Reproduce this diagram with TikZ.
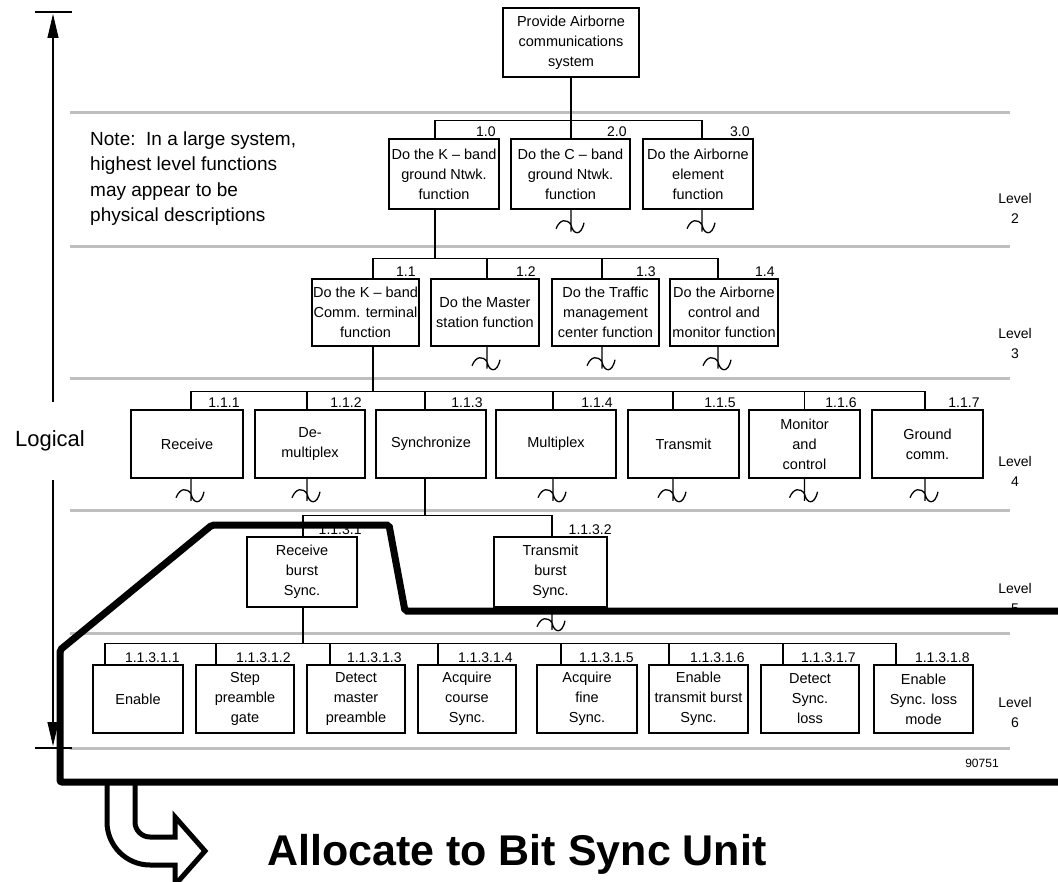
\documentclass[tikz,border=0pt]{standalone}
\usepackage{fontspec}
\setmainfont{Liberation Sans}
\usetikzlibrary{arrows.meta}

\begin{document}
\begin{tikzpicture}[x=1pt,y=-1pt]
	\tikzstyle{block} = [rectangle, draw, line width=1.5pt, inner sep=0pt, align=center, font=\fontsize{14.5}{20}\selectfont]
	\tikzstyle{num} = [anchor=base east, inner sep=0pt, xshift=-4pt, yshift=2pt, font=\fontsize{14}{16}\selectfont]
	\tikzstyle{tree} = [line width=1.2pt]
	\tikzstyle{sep} = [line width=3pt, black!25]
	\tikzstyle{lvl} = [align=center, inner sep=0pt, font=\fontsize{14}{20}\selectfont]
	\tikzset{squig/.pic={\draw[line width=1.3pt] (0,0) -- (0,22)
		(-15,19) .. controls (-11,9) and (-4,9) .. (0,15) .. controls (2,25) and (10,27) .. (13,13);}}
	\useasboundingbox (0,0) rectangle (1058,882);
	% level separators
	\foreach \y in {113,247,379,510,633,748} \draw[sep] (70,\y) -- (1010,\y);
	% logical axis
	\coordinate (ltop) at (53,14);
	\coordinate (lbot) at (53,746);
	\draw[line width=1.2pt] (35,12) -- (72,12) (35,748) -- (72,748);
	\node[minimum height=78pt, inner sep=0pt, font=\fontsize{22}{24}\selectfont](logical)at (50,441){Logical};
	\draw[line width=1.2pt, -{Triangle[length=24pt,width=11pt]}] (logical.north -| ltop) -- (ltop);
	\draw[line width=1.2pt, -{Triangle[length=24pt,width=11pt]}] (logical.south -| lbot) -- (lbot);
	\node[anchor=west, align=left, inner sep=0pt, font=\fontsize{19}{25.5}\selectfont](note)at (90,178.5){Note:\ \ In a large system,\\highest level functions\\may appear to be\\physical descriptions};
	% boxes
	\node[block, minimum width=136pt, minimum height=69pt](root)at (571,42.5){Provide Airborne\\communications\\system};
	\node[block, minimum width=110pt, minimum height=70pt](kband)at (444,174){Do the K – band\\ground Ntwk.\\function};
	\node[block, minimum width=119pt, minimum height=70pt](cband)at (570.5,174){Do the C – band\\ground Ntwk.\\function};
	\node[block, minimum width=110pt, minimum height=70pt](airelem)at (698,174){Do the Airborne\\element\\function};
	\node[block, minimum width=107pt, minimum height=67pt](kterm)at (365.5,312.5){Do the K – band\\Comm. terminal\\function};
	\node[block, minimum width=108pt, minimum height=67pt](master)at (485,312.5){Do the Master\\station function};
	\node[block, minimum width=107pt, minimum height=67pt](traffic)at (605.5,312.5){Do the Traffic\\management\\center function};
	\node[block, minimum width=108pt, minimum height=67pt](airctl)at (724,312.5){Do the Airborne\\control and\\monitor function};
	\node[block, minimum width=112pt, minimum height=68pt](receive)at (187,444){Receive};
	\node[block, minimum width=110pt, minimum height=68pt](demux)at (310,444){De-\\multiplex};
	\node[block, minimum width=110pt, minimum height=68pt](sync)at (431,444){Synchronize};
	\node[block, minimum width=120pt, minimum height=68pt](mux)at (556,444){Multiplex};
	\node[block, minimum width=111pt, minimum height=68pt](transmit)at (683.5,444){Transmit};
	\node[block, minimum width=111pt, minimum height=68pt](monitor)at (804.5,444){Monitor\\and\\control};
	\node[block, minimum width=111pt, minimum height=68pt](ground)at (927.5,444){Ground\\comm.};
	\node[block, minimum width=110pt, minimum height=70pt](rxburst)at (302,572){Receive\\burst\\Sync.};
	\node[block, minimum width=113pt, minimum height=70pt](txburst)at (550.5,572){Transmit\\burst\\Sync.};
	\node[block, minimum width=90pt, minimum height=68pt](enable)at (138,699){Enable};
	\node[block, minimum width=98pt, minimum height=68pt](stepgate)at (245,699){Step\\preamble\\gate};
	\node[block, minimum width=98pt, minimum height=68pt](detmaster)at (356,699){Detect\\master\\preamble};
	\node[block, minimum width=98pt, minimum height=68pt](course)at (467,699){Acquire\\course\\Sync.};
	\node[block, minimum width=100pt, minimum height=68pt](fine)at (587,699){Acquire\\fine\\Sync.};
	\node[block, minimum width=99pt, minimum height=68pt](entx)at (698.5,699){Enable\\transmit burst\\Sync.};
	\node[block, minimum width=98pt, minimum height=68pt](detloss)at (810,699){Detect\\Sync.\\loss};
	\node[block, minimum width=99pt, minimum height=68pt](enloss)at (923.5,699){Enable\\Sync. loss\\mode};
	% tree
	\draw[tree] (root.south) -- ++(0,43) coordinate (j1);
	\foreach \n/\d in {kband/-9,cband/0.5,airelem/4} \draw[tree] (j1) -| ([xshift=\d pt]\n.north);
	\draw[tree] ([xshift=-9pt]kband.south) -- ++(0,49) coordinate (j2);
	\foreach \n/\d in {kterm/7.5,master/2,traffic/-3.5,airctl/-6} \draw[tree] (j2) -| ([xshift=\d pt]\n.north);
	\draw[tree] ([xshift=7.5pt]kterm.south) -- ++(0,45) coordinate (j3);
	\foreach \n/\d in {receive/4,demux/-3,sync/-6,mux/-3,transmit/-10.5,monitor/0,ground/-2.5} \draw[tree] (j3) -| ([xshift=\d pt]\n.north);
	\draw[tree] ([xshift=-6pt]sync.south) -- ++(0,37) coordinate (j4);
	\foreach \n/\d in {rxburst/1,txburst/1.5} \draw[tree] (j4) -| ([xshift=\d pt]\n.north);
	\draw[tree] ([xshift=1pt]rxburst.south) -- ++(0,36) coordinate (j5);
	\foreach \n/\d in {enable/-33,stepgate/-29,detmaster/-26,course/-29,fine/-26,entx/-29.5,detloss/-27,enloss/-27.5} \draw[tree] (j5) -| ([xshift=\d pt]\n.north);
	% not decomposed further
	\foreach \n/\d in {cband/0.5,airelem/4,master/2,traffic/-3.5,airctl/-6,receive/4,demux/-3,mux/-3,transmit/-10.5,monitor/0,ground/-2.5,txburst/1.5} \pic at ([xshift=\d pt]\n.south) {squig};
	% numbers
	\foreach \n/\t in {kband/1.0,cband/2.0,airelem/3.0,kterm/1.1,master/1.2,traffic/1.3,airctl/1.4,receive/1.1.1,demux/1.1.2,sync/1.1.3,mux/1.1.4,transmit/1.1.5,monitor/1.1.6,ground/1.1.7,enable/1.1.3.1.1,stepgate/1.1.3.1.2,detmaster/1.1.3.1.3,course/1.1.3.1.4,fine/1.1.3.1.5,entx/1.1.3.1.6,detloss/1.1.3.1.7,enloss/1.1.3.1.8} \node[num](\n-no)at (\n.north east){\t};
	\node[num, xshift=8pt](rxburst-no)at (rxburst.north east){1.1.3.1};
	\node[num, xshift=8pt](txburst-no)at (txburst.north east){1.1.3.2};
	% levels
	\foreach \y/\l in {208/2,343/3,471/4,598/5,712/6} \node[lvl](level\l)at (1015,\y){Level\\\l};
	\node[font=\fontsize{12}{14}\selectfont](fignum)at (982,763){90751};
	% allocation
	\draw[line width=5pt, fill=white] (135,782) -- (135,822) .. controls (135,830.3) and (141.7,837) .. (150,837) -- (175,837) -- (175,817) -- (205,851) -- (175,885) -- (175,865) -- (150,865) .. controls (126.3,865) and (107,845.7) .. (107,822) -- (107,782);
	\draw[line width=7pt, rounded corners=2pt] (1066,611) -- (405,611) -- (389,525) -- (212,525) -- (60,650) -- (60,782) -- (1066,782);
	\node[anchor=base west, inner sep=0pt, font=\fontsize{43}{48}\selectfont\bfseries](alloc)at (267,865){Allocate to Bit Sync Unit};
\end{tikzpicture}
\end{document}
